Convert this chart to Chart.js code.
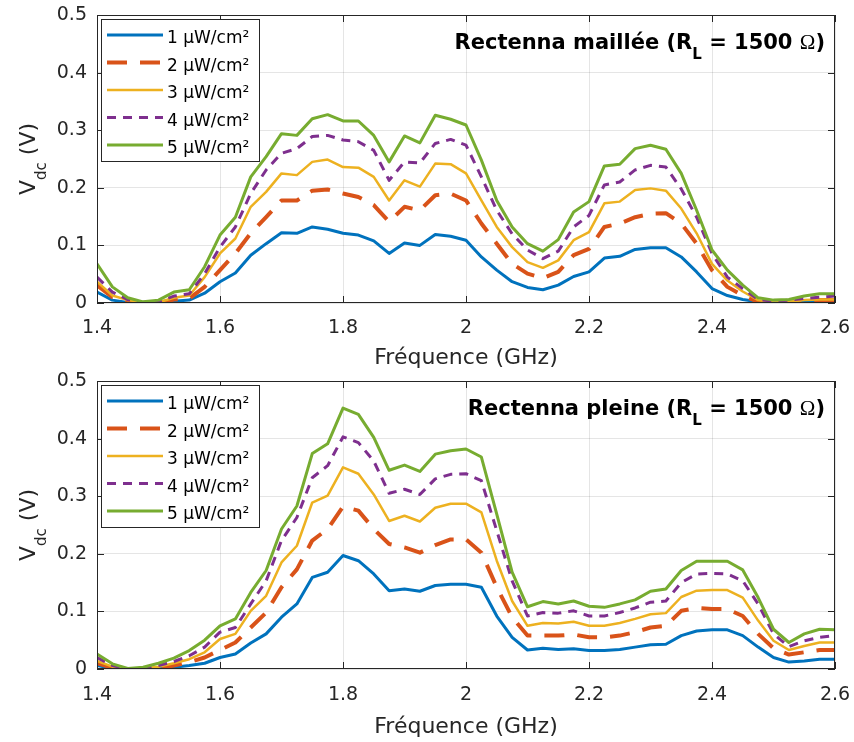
<!DOCTYPE html>
<html lang="fr">
<head>
  <meta charset="UTF-8" />
  <title>Rectenna maillée / pleine - Vdc</title>
  <style>
    body {
      margin: 0;
      background: #fff;
    }

    .panel {
      position: relative;
      width: 854px;
      height: 371px;
    }
  </style>
</head>
<body>

  <div class="panel"><canvas id="chartMaillee"></canvas></div>
  <div class="panel"><canvas id="chartPleine"></canvas></div>

  <script src="https://cdn.jsdelivr.net/npm/chart.js"></script>
  <script>
    // frequency points (GHz)
    const freqs = [
      1.400, 1.425, 1.450, 1.475, 1.500, 1.525, 1.550, 1.575, 1.600, 1.625,
      1.650, 1.675, 1.700, 1.725, 1.750, 1.775, 1.800, 1.825, 1.850, 1.875,
      1.900, 1.925, 1.950, 1.975, 2.000, 2.025, 2.050, 2.075, 2.100, 2.125,
      2.150, 2.175, 2.200, 2.225, 2.250, 2.275, 2.300, 2.325, 2.350, 2.375,
      2.400, 2.425, 2.450, 2.475, 2.500, 2.525, 2.550, 2.575, 2.600
    ];

    const seriesLabels = ['1 µW/cm²', '2 µW/cm²', '3 µW/cm²', '4 µW/cm²', '5 µW/cm²'];

    const xTicks = [1.4, 1.6, 1.8, 2.0, 2.2, 2.4, 2.6];
    const yTicks = [0, 0.1, 0.2, 0.3, 0.4, 0.5];

    // Rectenna maillée, Vdc (V)
    const mailleeP1 = [0.019,0.005,0.001,0.000,0.000,0.003,0.005,0.017,0.037,0.052,0.083,0.103,0.122,0.121,0.132,0.128,0.121,0.118,0.108,0.086,0.104,0.100,0.119,0.116,0.109,0.080,0.057,0.037,0.027,0.023,0.031,0.046,0.054,0.078,0.081,0.093,0.096,0.096,0.080,0.054,0.025,0.013,0.006,0.002,0.000,0.001,0.002,0.003,0.003];
    const mailleeP2 = [0.031,0.010,0.002,0.000,0.000,0.006,0.008,0.028,0.057,0.086,0.121,0.149,0.178,0.178,0.195,0.197,0.190,0.184,0.170,0.141,0.167,0.161,0.187,0.190,0.178,0.138,0.103,0.068,0.051,0.043,0.054,0.083,0.094,0.132,0.138,0.149,0.155,0.156,0.138,0.103,0.057,0.028,0.013,0.002,0.000,0.000,0.003,0.005,0.005];
    const mailleeP3 = [0.037,0.013,0.005,0.001,0.001,0.009,0.013,0.045,0.086,0.112,0.167,0.193,0.225,0.222,0.245,0.249,0.236,0.235,0.219,0.178,0.213,0.202,0.242,0.241,0.225,0.178,0.132,0.097,0.071,0.061,0.074,0.109,0.123,0.173,0.176,0.196,0.199,0.195,0.164,0.121,0.068,0.039,0.020,0.005,0.001,0.002,0.005,0.006,0.006];
    const mailleeP4 = [0.045,0.019,0.006,0.001,0.002,0.012,0.016,0.051,0.097,0.132,0.190,0.231,0.260,0.268,0.289,0.291,0.283,0.280,0.265,0.213,0.245,0.243,0.277,0.284,0.274,0.219,0.161,0.120,0.092,0.077,0.090,0.132,0.152,0.205,0.210,0.231,0.239,0.236,0.198,0.149,0.086,0.045,0.025,0.006,0.003,0.005,0.008,0.010,0.012];
    const mailleeP5 = [0.068,0.028,0.009,0.002,0.005,0.019,0.023,0.063,0.118,0.149,0.219,0.254,0.294,0.291,0.320,0.327,0.316,0.316,0.291,0.245,0.290,0.278,0.326,0.319,0.309,0.248,0.178,0.132,0.103,0.090,0.110,0.158,0.176,0.238,0.241,0.268,0.274,0.267,0.225,0.161,0.092,0.057,0.031,0.009,0.005,0.006,0.012,0.016,0.016];

    // Rectenna pleine, Vdc (V)
    const pleineP1 = [0.006,0.001,0.000,0.000,0.001,0.003,0.006,0.010,0.020,0.026,0.045,0.061,0.090,0.113,0.159,0.168,0.197,0.188,0.165,0.136,0.139,0.135,0.145,0.147,0.147,0.142,0.092,0.055,0.033,0.036,0.034,0.035,0.032,0.032,0.034,0.038,0.042,0.043,0.058,0.066,0.068,0.068,0.058,0.038,0.020,0.012,0.014,0.017,0.017];
    const pleineP2 = [0.010,0.002,0.000,0.000,0.001,0.006,0.012,0.020,0.033,0.046,0.072,0.098,0.142,0.173,0.223,0.243,0.282,0.275,0.243,0.217,0.211,0.202,0.215,0.225,0.225,0.202,0.142,0.090,0.058,0.058,0.058,0.060,0.055,0.055,0.058,0.064,0.072,0.075,0.101,0.106,0.104,0.104,0.092,0.061,0.036,0.025,0.029,0.033,0.033];
    const pleineP3 = [0.014,0.004,0.000,0.001,0.004,0.010,0.017,0.029,0.052,0.061,0.101,0.127,0.185,0.214,0.289,0.301,0.350,0.339,0.303,0.257,0.266,0.256,0.280,0.287,0.287,0.272,0.188,0.118,0.075,0.080,0.079,0.082,0.075,0.075,0.080,0.087,0.095,0.097,0.125,0.136,0.137,0.137,0.124,0.084,0.049,0.033,0.040,0.046,0.046];
    const pleineP4 = [0.020,0.006,0.000,0.001,0.006,0.013,0.023,0.038,0.064,0.072,0.113,0.153,0.223,0.263,0.332,0.353,0.403,0.393,0.361,0.305,0.312,0.303,0.330,0.338,0.339,0.327,0.240,0.153,0.092,0.098,0.097,0.101,0.092,0.092,0.098,0.106,0.116,0.118,0.150,0.165,0.166,0.165,0.153,0.113,0.061,0.039,0.049,0.055,0.058];
    const pleineP5 = [0.026,0.009,0.001,0.003,0.010,0.019,0.032,0.050,0.075,0.087,0.133,0.171,0.243,0.283,0.374,0.391,0.453,0.442,0.402,0.345,0.354,0.343,0.373,0.379,0.382,0.368,0.269,0.168,0.108,0.117,0.113,0.118,0.109,0.107,0.113,0.120,0.135,0.139,0.171,0.187,0.187,0.187,0.172,0.124,0.069,0.046,0.061,0.069,0.068];

    // MATLAB default line colours
    const colors = ['#0072BD', '#D95319', '#EDB120', '#7E2F8E', '#77AC30'];
    const lineWidths = [3, 4, 2.5, 3, 3];
    const lineDashes = [[], [20, 13], [], [9, 7], []];

    const FONT = "'DejaVu Sans', sans-serif";
    const AXIS_COLOR = '#262626';
    Chart.defaults.font.family = FONT;
    Chart.defaults.color = AXIS_COLOR;

    function makeDatasets(series) {
      return series.map((vals, i) => ({
        label: seriesLabels[i],
        data: vals.map((v, k) => ({ x: freqs[k], y: v })),
        borderColor: colors[i],
        borderWidth: lineWidths[i],
        borderDash: lineDashes[i],
        borderJoinStyle: 'round',
        pointRadius: 0,
        tension: 0,
        fill: false,
        order: series.length - i   // last series drawn on top
      }));
    }

    function drawRich(ctx, parts, x, y, align) {
      const widths = parts.map(p => { ctx.font = p.font; return ctx.measureText(p.text).width; });
      const total = widths.reduce((s, w) => s + w, 0);
      let cx = align === 'right' ? x - total : align === 'center' ? x - total / 2 : x;
      ctx.textAlign = 'left';
      ctx.textBaseline = 'alphabetic';
      parts.forEach((p, i) => {
        ctx.font = p.font;
        ctx.fillText(p.text, cx, y + (p.dy || 0));
        cx += widths[i];
      });
    }

    // box + inward ticks, like a MATLAB axes
    const matlabFrame = {
      id: 'matlabFrame',
      afterDatasetsDraw(chart) {
        const { ctx, chartArea: a, scales: { x, y } } = chart;
        const tl = 7;
        ctx.save();
        ctx.strokeStyle = AXIS_COLOR;
        ctx.lineWidth = 1;
        ctx.setLineDash([]);
        ctx.strokeRect(a.left + 0.5, a.top + 0.5, a.right - a.left - 1, a.bottom - a.top - 1);
        ctx.beginPath();
        xTicks.forEach(v => {
          const px = Math.round(x.getPixelForValue(v)) + 0.5;
          ctx.moveTo(px, a.bottom); ctx.lineTo(px, a.bottom - tl);
          ctx.moveTo(px, a.top); ctx.lineTo(px, a.top + tl);
        });
        yTicks.forEach(v => {
          const py = Math.round(y.getPixelForValue(v)) + 0.5;
          ctx.moveTo(a.left, py); ctx.lineTo(a.left + tl, py);
          ctx.moveTo(a.right, py); ctx.lineTo(a.right - tl, py);
        });
        ctx.stroke();
        ctx.restore();
      }
    };

    // legend box, annotation, y title with subscripts
    const panelDecor = {
      id: 'panelDecor',
      afterDraw(chart, args, opts) {
        const { ctx, chartArea: a } = chart;
        ctx.save();

        // legend
        const bx = a.left + 4, by = a.top + 4, bw = 158, bh = 142;
        ctx.fillStyle = '#fff';
        ctx.fillRect(bx, by, bw, bh);
        ctx.strokeStyle = AXIS_COLOR;
        ctx.lineWidth = 1;
        ctx.strokeRect(bx + 0.5, by + 0.5, bw, bh);
        chart.data.datasets.forEach((ds, i) => {
          const ry = by + 16 + i * 27.5;
          ctx.beginPath();
          ctx.strokeStyle = ds.borderColor;
          ctx.lineWidth = ds.borderWidth;
          ctx.setLineDash(ds.borderDash);
          ctx.moveTo(bx + 6, ry);
          ctx.lineTo(bx + 62, ry);
          ctx.stroke();
          ctx.setLineDash([]);
          ctx.fillStyle = '#000';
          ctx.font = '17px ' + FONT;
          ctx.textAlign = 'left';
          ctx.textBaseline = 'alphabetic';
          ctx.fillText(ds.label, bx + 66, ry + 8);
        });

        // annotation
        ctx.fillStyle = '#000';
        const bold = 'bold 21px ' + FONT;
        drawRich(ctx, [
          { text: opts.name + ' (R', font: bold },
          { text: 'L', font: 'bold 15px ' + FONT, dy: 10 },
          { text: ' = 1500 ', font: bold },
          { text: 'Ω', font: "21px 'Liberation Serif', serif" },
          { text: ')', font: bold }
        ], a.right - 10, a.top + 34, 'right');

        // y axis title
        ctx.fillStyle = AXIS_COLOR;
        ctx.translate(35, (a.top + a.bottom) / 2);
        ctx.rotate(-Math.PI / 2);
        drawRich(ctx, [
          { text: 'V', font: '22px ' + FONT },
          { text: 'dc', font: '15px ' + FONT, dy: 11 },
          { text: ' (V)', font: '22px ' + FONT }
        ], 0, 0, 'center');

        ctx.restore();
      }
    };

    function buildChart(canvasId, series, name, padTop, xHeight, tickPad, titlePad) {
      return new Chart(document.getElementById(canvasId), {
        type: 'line',
        data: { datasets: makeDatasets(series) },
        options: {
          responsive: true,
          maintainAspectRatio: false,
          animation: false,
          events: [],
          layout: { padding: { top: padTop, right: 19, bottom: 0, left: 0 } },
          scales: {
            x: {
              type: 'linear',
              min: 1.4,
              max: 2.6,
              afterBuildTicks: s => { s.ticks = xTicks.map(v => ({ value: v })); },
              ticks: {
                padding: tickPad,
                color: AXIS_COLOR,
                font: { size: 19 },
                maxRotation: 0,
                callback: v => String(+v.toFixed(1))
              },
              grid: { color: 'rgba(0,0,0,0.1)', drawTicks: false },
              border: { display: false },
              title: {
                display: true,
                text: 'Fréquence (GHz)',
                color: AXIS_COLOR,
                font: { size: 22 },
                padding: { top: 0, bottom: titlePad }
              },
              afterFit: s => { s.height = xHeight; s.paddingLeft = 0; s.paddingRight = 0; }
            },
            y: {
              min: 0,
              max: 0.5,
              afterBuildTicks: s => { s.ticks = yTicks.map(v => ({ value: v })); },
              ticks: {
                padding: 10,
                color: AXIS_COLOR,
                font: { size: 19 },
                callback: v => String(+v.toFixed(1))
              },
              grid: { color: 'rgba(0,0,0,0.1)', drawTicks: false },
              border: { display: false },
              afterFit: s => { s.width = 97; s.paddingTop = 0; s.paddingBottom = 0; }
            }
          },
          plugins: {
            legend: { display: false },
            tooltip: { enabled: false },
            panelDecor: { name: name }
          }
        },
        plugins: [matlabFrame, panelDecor]
      });
    }

    buildChart('chartMaillee', [mailleeP1, mailleeP2, mailleeP3, mailleeP4, mailleeP5],
      'Rectenna maillée', 15, 68, 14, 0);
    buildChart('chartPleine', [pleineP1, pleineP2, pleineP3, pleineP4, pleineP5],
      'Rectenna pleine', 10, 73, 15, 2);
  </script>
</body>
</html>
